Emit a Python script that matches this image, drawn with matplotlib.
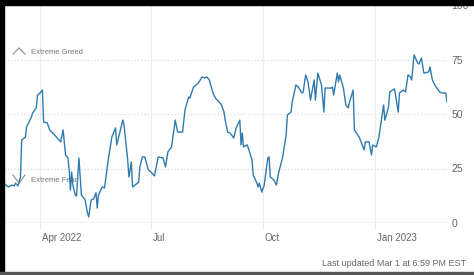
import matplotlib

matplotlib.use("Agg")
import matplotlib.dates as mdates
import matplotlib.pyplot as plt
import matplotlib.transforms as mtrans
import numpy as np
from matplotlib.patches import Rectangle

plt.rcParams["font.family"] = ["Liberation Sans", "DejaVu Sans"]

# Fear & Greed index; days counted from 2022-03-01
START = np.datetime64("2022-03-01")
day = [1, 2, 5, 8, 10, 11, 13, 15, 16, 19, 20, 24, 25, 28, 29, 31, 33, 34, 37, 39,
       43, 46, 48, 50, 52, 54, 55, 56, 57, 58, 60, 61, 63, 65, 68, 70, 71, 73, 75, 77,
       78, 79, 82, 84, 87, 90, 93, 94, 99, 100, 103, 104, 106, 107, 109, 112, 113, 115,
       117, 120, 122, 125, 128, 132, 134, 136, 139, 142, 144, 148, 150, 153, 154, 157,
       161, 164, 166, 168, 170, 173, 175, 178, 180, 182, 183, 185, 187, 190, 192, 195,
       196, 197, 198, 201, 202, 205, 206, 209, 210, 211, 213, 215, 218, 219, 220, 223,
       225, 227, 230, 233, 234, 237, 238, 241, 243, 246, 247, 249, 251, 253, 256, 257,
       259, 262, 264, 265, 270, 271, 272, 275, 276, 277, 280, 282, 284, 285, 288, 289,
       293, 297, 298, 301, 303, 304, 307, 309, 313, 314, 317, 318, 322, 325, 326, 329,
       331, 333, 335, 336, 338, 341, 342, 344, 346, 350, 351, 353, 355, 359, 361, 364,
       365]
score = [20.6, 17.9, 16.5, 17.4, 17.0, 18.3, 17.0, 21.1, 38.0, 39.4, 44.0, 48.6, 50.5,
         52.8, 58.7, 59.6, 61.0, 46.3, 45.9, 42.7, 40.4, 38.5, 37.2, 42.7, 31.2, 29.8,
         24.3, 15.1, 23.4, 17.4, 12.8, 12.4, 29.8, 12.8, 10.6, 4.6, 2.8, 10.6, 11.0, 13.8,
         6.9, 12.8, 16.5, 16.1, 28.9, 39.4, 43.6, 35.8, 47.2, 45.0, 28.9, 21.1, 28.0, 16.5,
         17.4, 18.8, 25.7, 30.3, 30.3, 24.3, 23.4, 21.6, 30.3, 29.8, 25.7, 32.6, 34.9,
         47.2, 41.7, 41.7, 51.8, 57.8, 57.3, 62.4, 64.2, 67.0, 66.5, 67.0, 65.6, 59.6,
         57.3, 55.5, 54.1, 50.9, 47.2, 41.7, 41.3, 39.0, 43.6, 47.2, 35.8, 41.3, 34.9,
         35.8, 34.4, 28.9, 22.0, 18.3, 16.5, 18.3, 14.2, 17.4, 29.8, 30.3, 21.1, 19.7,
         17.4, 23.4, 29.8, 40.4, 49.5, 50.9, 55.5, 63.3, 62.4, 59.6, 60.1, 67.9, 64.7,
         56.4, 65.6, 56.4, 68.8, 63.3, 50.9, 61.9, 61.9, 62.4, 58.7, 68.8, 64.7, 67.9,
         61.9, 54.1, 52.8, 55.5, 61.0, 42.7, 39.4, 33.5, 37.2, 37.2, 31.2, 35.8, 34.9,
         39.0, 54.1, 47.2, 53.2, 60.1, 61.5, 50.9, 59.6, 61.0, 60.1, 67.9, 67.0, 65.6,
         77.1, 73.4, 72.9, 75.7, 68.8, 69.3, 71.6, 65.6, 63.3, 60.1, 59.6, 59.6, 55.5]

month_ticks = ["2022-04-01", "2022-07-01", "2022-10-01", "2023-01-01"]
month_labels = ["Apr 2022", "Jul", "Oct", "Jan 2023"]
y_ticks = [0, 25, 50, 75, 100]

dates = START + np.array(day).astype("timedelta64[D]")

W, H = 474, 275
fig = plt.figure(figsize=(W / 100, H / 100), dpi=100, facecolor="white")
ax = fig.add_axes([4 / W, (H - 223) / H, 443 / W, 218 / H])
ax.set_facecolor("white")

ax.plot(dates, score, color="#2f7bb0", lw=1.0, zorder=3)

ax.set_ylim(0, 100)
ax.set_xlim(START + np.timedelta64(1, "D") + np.timedelta64(12, "h"),
            START + np.timedelta64(365, "D"))

# grid
for v in y_ticks[1:]:
    ax.axhline(v, color="#d4d4d4", lw=0.8, ls=(0, (1, 2)), zorder=1)
ax.axhline(0, color="#c8c8c8", lw=1.0, zorder=2)
for d in month_ticks:
    ax.axvline(np.datetime64(d), color="#ececec", lw=0.8, zorder=1)

for s in ax.spines.values():
    s.set_visible(False)

ax.set_xticks([np.datetime64(d) for d in month_ticks])
ax.set_xticklabels(month_labels)
ax.tick_params(axis="x", length=4, color="#ececec", pad=3, labelsize=7,
               labelcolor="#666666")
shift = mtrans.ScaledTranslation(2 / 100, 0, fig.dpi_scale_trans)
for lab in ax.get_xticklabels():
    lab.set_horizontalalignment("left")
    lab.set_transform(lab.get_transform() + shift)

ax.yaxis.tick_right()
ax.set_yticks(y_ticks)
ax.tick_params(axis="y", length=0, pad=3, labelsize=7.5, labelcolor="#666666")

# zone markers
chev = dict(color="#8a8a8a", lw=0.8, transform=ax.transAxes, clip_on=False)
ax.plot([0.0203, 0.0339, 0.0474], [0.775, 0.803, 0.775], **chev)
ax.plot([0.0203, 0.0339, 0.0474], [0.220, 0.183, 0.220], **chev)
ax.text(0.061, 0.784, "Extreme Greed", transform=ax.transAxes, fontsize=5.5,
        color="#777777", va="center")
ax.text(0.061, 0.197, "Extreme Fear", transform=ax.transAxes, fontsize=5.5,
        color="#777777", va="center", zorder=2)

fig.text(466 / W, 1 - 264 / H, "Last updated Mar 1 at 6:59 PM EST", fontsize=6.5,
         color="#666666", ha="right", va="center")

# screenshot frame
fig.add_artist(Rectangle((0, 1 - 5 / H), 1, 5 / H, transform=fig.transFigure,
                         color="black", zorder=10))
fig.add_artist(Rectangle((0, 0), 4 / W, 1, transform=fig.transFigure,
                         color="black", zorder=10))
fig.add_artist(Rectangle((0, 0), 1, 3 / H, transform=fig.transFigure,
                         color="#555555", zorder=10))

fig.savefig("out.png", dpi=100, facecolor=fig.get_facecolor())
